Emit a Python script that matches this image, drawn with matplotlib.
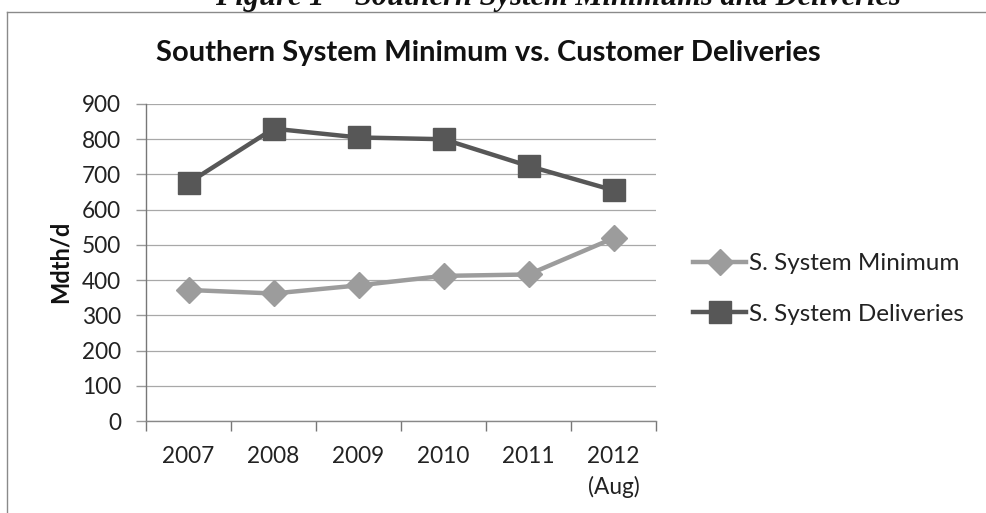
import matplotlib
matplotlib.use("Agg")
import matplotlib.pyplot as plt
from matplotlib.lines import Line2D
import numpy as np

categories = ["2007", "2008", "2009", "2010", "2011", "2012\n(Aug)"]
s_minimum = [372, 362, 385, 412, 416, 519]
s_deliveries = [676, 830, 805, 800, 724, 655]
y_ticks = [0, 100, 200, 300, 400, 500, 600, 700, 800, 900]
series_names = ["S. System Minimum", "S. System Deliveries"]
chart_title = "Southern System Minimum vs. Customer Deliveries"
caption = "Figure 1 \u2013 Southern System Minimums and Deliveries"
y_label = "Mdth/d"

W, H = 987, 513
fig = plt.figure(figsize=(W / 100, H / 100), dpi=100)
FONT = "Lato"
FS = 16.3

def fx(px):
    return px / W

def fy(py):
    return 1 - py / H

ax = fig.add_axes([fx(146), fy(421), fx(656) - fx(146), fy(104) - fy(421)])
x = np.arange(len(categories))

c_min = "#9c9c9c"
c_del = "#575757"
ax.plot(x, s_minimum, color=c_min, lw=3.2, marker="D", markersize=13.5,
        markerfacecolor=c_min, markeredgecolor=c_min, label=series_names[0], zorder=3)
ax.plot(x, s_deliveries, color=c_del, lw=3.2, marker="s", markersize=15.5,
        markerfacecolor=c_del, markeredgecolor=c_del, label=series_names[1], zorder=4)

ax.set_xlim(-0.5, len(categories) - 0.5)
ax.set_ylim(0, 900)
ax.set_yticks(y_ticks)
ax.set_yticklabels([str(v) for v in y_ticks], fontfamily=FONT, fontsize=FS, color="#222222")
ax.yaxis.grid(True, color="#a8a8a8", lw=0.9)
ax.set_axisbelow(True)

ax.set_xticks(x)
ax.set_xticklabels(categories, fontfamily=FONT, fontsize=FS, color="#222222", linespacing=1.5)
ax.set_xticks(np.arange(-0.5, len(categories)), minor=True)
ax.tick_params(axis="x", which="major", length=0, pad=18)
ax.tick_params(axis="x", which="minor", length=7, width=1, color="#777777", direction="out")
ax.tick_params(axis="y", which="major", length=7, width=1, color="#999999", direction="out", pad=11)

for sp in ["top", "right"]:
    ax.spines[sp].set_visible(False)
ax.spines["left"].set_color("#777777")
ax.spines["left"].set_linewidth(1.0)
ax.spines["bottom"].set_color("#888888")
ax.spines["bottom"].set_linewidth(1.0)

fig.text(fx(60), fy(262), y_label, rotation=90, ha="center", va="center",
         fontfamily=FONT, fontweight="bold", fontsize=17, color="#111111")

fig.text(fx(488), fy(53), chart_title, ha="center", va="center",
         fontfamily=FONT, fontweight="bold", fontsize=21, color="#111111")

fig.text(fx(558), fy(5), caption, ha="center", va="baseline",
         fontfamily="Liberation Serif", fontweight="bold", fontstyle="italic",
         fontsize=22, color="#111111")

# outer frame (left and top edges)
fig.add_artist(Line2D([fx(7), fx(7)], [fy(12), 0], color="#8a8a8a", lw=1.0))
fig.add_artist(Line2D([fx(7), 1], [fy(12), fy(12)], color="#8a8a8a", lw=1.0))

leg = fig.legend(loc="center left", bbox_to_anchor=(fx(693), fy(289)),
                 frameon=False, prop={"family": FONT, "size": 17.5},
                 handlelength=2.2, handletextpad=0.12, labelspacing=1.2,
                 borderpad=0, borderaxespad=0)
for t in leg.get_texts():
    t.set_color("#222222")

fig.savefig("out.png", dpi=100)
